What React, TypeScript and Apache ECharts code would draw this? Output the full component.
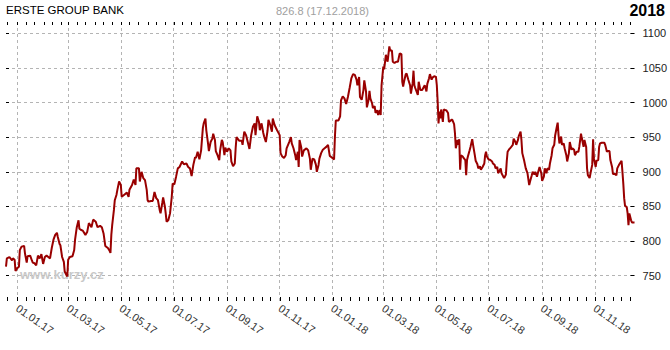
import React, { useEffect, useRef } from 'react';
import * as echarts from 'echarts';

const chartTitle = 'ERSTE GROUP BANK';
const lastInfo = '826.8 (17.12.2018)';
const yearLabel = '2018';
const watermark = 'www.kurzy.cz';

const xStart = '2016-12-19';
const xEnd = '2018-12-17';
const yMin = 713.5;
const yMax = 1116.3;
const yTicks = [750, 800, 850, 900, 950, 1000, 1050, 1100];
const majorDates = [
  '2017-01-01', '2017-03-01', '2017-05-01', '2017-07-01', '2017-09-01', '2017-11-01',
  '2018-01-01', '2018-03-01', '2018-05-01', '2018-07-01', '2018-09-01', '2018-11-01',
];

const prices2016: [string, number][] = [
  ['2016-12-19', 763], ['2016-12-20', 775], ['2016-12-23', 777], ['2016-12-26', 772],
  ['2016-12-27', 775], ['2016-12-29', 773], ['2016-12-30', 757],
];

const prices2017: [string, number][] = [
  ['2017-01-01', 761], ['2017-01-03', 763], ['2017-01-04', 787], ['2017-01-06', 792],
  ['2017-01-09', 793], ['2017-01-10', 782], ['2017-01-12', 769], ['2017-01-13', 778],
  ['2017-01-16', 779], ['2017-01-18', 772], ['2017-01-19', 769], ['2017-01-21', 768],
  ['2017-01-23', 765], ['2017-01-25', 779], ['2017-01-27', 775], ['2017-01-29', 781],
  ['2017-01-31', 767], ['2017-02-02', 777], ['2017-02-04', 779], ['2017-02-06', 777],
  ['2017-02-08', 775], ['2017-02-10', 790], ['2017-02-12', 802], ['2017-02-14', 809],
  ['2017-02-16', 812], ['2017-02-17', 806], ['2017-02-19', 796], ['2017-02-20', 794],
  ['2017-02-22', 777], ['2017-02-24', 770], ['2017-02-25', 756], ['2017-02-27', 751],
  ['2017-02-28', 749], ['2017-03-01', 773], ['2017-03-03', 777], ['2017-03-06', 778],
  ['2017-03-08', 787], ['2017-03-09', 802], ['2017-03-11', 820], ['2017-03-13', 830],
  ['2017-03-14', 818], ['2017-03-16', 816], ['2017-03-18', 815], ['2017-03-21', 809],
  ['2017-03-23', 813], ['2017-03-25', 826], ['2017-03-28', 820], ['2017-03-30', 831],
  ['2017-04-02', 828], ['2017-04-04', 820], ['2017-04-07', 822], ['2017-04-09', 820],
  ['2017-04-11', 811], ['2017-04-13', 793], ['2017-04-16', 790], ['2017-04-18', 786],
  ['2017-04-19', 783], ['2017-04-20', 809], ['2017-04-21', 823], ['2017-04-23', 845],
  ['2017-04-24', 859], ['2017-04-26', 867], ['2017-04-27', 874], ['2017-04-29', 886],
  ['2017-05-01', 881], ['2017-05-02', 864], ['2017-05-05', 867], ['2017-05-08', 870],
  ['2017-05-10', 864], ['2017-05-11', 874], ['2017-05-14', 881], ['2017-05-16', 889],
  ['2017-05-18', 881], ['2017-05-19', 905], ['2017-05-22', 905], ['2017-05-23', 886],
  ['2017-05-25', 900], ['2017-05-27', 891], ['2017-05-29', 888], ['2017-05-31', 874],
  ['2017-06-01', 859], ['2017-06-02', 857], ['2017-06-05', 858], ['2017-06-07', 858],
  ['2017-06-09', 871], ['2017-06-11', 862], ['2017-06-13', 859], ['2017-06-15', 845],
  ['2017-06-16', 840], ['2017-06-18', 855], ['2017-06-19', 863], ['2017-06-21', 850],
  ['2017-06-22', 840], ['2017-06-23', 828], ['2017-06-25', 830], ['2017-06-27', 840],
  ['2017-06-29', 864], ['2017-06-30', 883], ['2017-07-02', 882], ['2017-07-04', 893],
  ['2017-07-06', 905], ['2017-07-08', 907], ['2017-07-11', 915], ['2017-07-13', 911],
  ['2017-07-16', 912], ['2017-07-18', 907], ['2017-07-20', 905], ['2017-07-22', 894],
  ['2017-07-24', 910], ['2017-07-26', 921], ['2017-07-27', 920], ['2017-07-29', 929],
  ['2017-07-31', 918], ['2017-08-02', 931], ['2017-08-04', 963], ['2017-08-05', 970],
  ['2017-08-07', 977], ['2017-08-08', 960], ['2017-08-10', 941], ['2017-08-11', 930],
  ['2017-08-13', 943], ['2017-08-15', 948], ['2017-08-16', 955], ['2017-08-18', 946],
  ['2017-08-19', 930], ['2017-08-21', 924], ['2017-08-23', 917], ['2017-08-24', 931],
  ['2017-08-26', 946], ['2017-08-27', 943], ['2017-08-29', 924], ['2017-08-30', 935],
  ['2017-09-01', 929], ['2017-09-03', 934], ['2017-09-05', 931], ['2017-09-06', 915],
  ['2017-09-08', 908], ['2017-09-10', 912], ['2017-09-11', 934], ['2017-09-12', 950],
  ['2017-09-15', 945], ['2017-09-18', 945], ['2017-09-19', 939], ['2017-09-21', 958],
  ['2017-09-23', 953], ['2017-09-25', 943], ['2017-09-27', 933], ['2017-09-29', 953],
  ['2017-10-01', 965], ['2017-10-03', 970], ['2017-10-04', 953], ['2017-10-06', 980],
  ['2017-10-08', 972], ['2017-10-09', 960], ['2017-10-11', 970], ['2017-10-13', 956],
  ['2017-10-14', 951], ['2017-10-16', 943], ['2017-10-18', 960], ['2017-10-19', 975],
  ['2017-10-21', 968], ['2017-10-23', 958], ['2017-10-24', 977], ['2017-10-26', 968],
  ['2017-10-27', 965], ['2017-10-29', 960], ['2017-11-01', 953], ['2017-11-02', 927],
  ['2017-11-04', 922], ['2017-11-06', 920], ['2017-11-08', 924], ['2017-11-09', 934],
  ['2017-11-12', 943], ['2017-11-14', 950], ['2017-11-15', 941], ['2017-11-17', 934],
  ['2017-11-19', 924], ['2017-11-20', 917], ['2017-11-22', 929], ['2017-11-23', 907],
  ['2017-11-24', 946], ['2017-11-26', 935], ['2017-11-27', 922], ['2017-11-29', 931],
  ['2017-12-02', 934], ['2017-12-04', 931], ['2017-12-06', 919], ['2017-12-07', 903],
  ['2017-12-09', 919], ['2017-12-11', 918], ['2017-12-13', 910], ['2017-12-14', 900],
  ['2017-12-16', 910], ['2017-12-17', 919], ['2017-12-19', 927], ['2017-12-21', 932],
  ['2017-12-23', 934], ['2017-12-25', 936], ['2017-12-27', 939], ['2017-12-28', 931],
  ['2017-12-29', 923], ['2017-12-31', 921],
];

const prices2018: [string, number][] = [
  ['2018-01-03', 918], ['2018-01-04', 951], ['2018-01-05', 974], ['2018-01-08', 974],
  ['2018-01-10', 980], ['2018-01-11', 1003], ['2018-01-13', 1009], ['2018-01-15', 1006],
  ['2018-01-17', 998], ['2018-01-19', 1008], ['2018-01-21', 1021], ['2018-01-23', 1035],
  ['2018-01-25', 1041], ['2018-01-27', 1040], ['2018-01-29', 1033], ['2018-01-30', 1025],
  ['2018-02-01', 1037], ['2018-02-02', 1008], ['2018-02-04', 1004], ['2018-02-06', 1018],
  ['2018-02-07', 1032], ['2018-02-09', 1016], ['2018-02-10', 993], ['2018-02-12', 1004],
  ['2018-02-13', 1017], ['2018-02-14', 1006], ['2018-02-16', 999], ['2018-02-17', 992],
  ['2018-02-19', 995], ['2018-02-20', 985], ['2018-02-22', 989], ['2018-02-23', 982],
  ['2018-02-25', 989], ['2018-02-26', 982], ['2018-02-27', 1025], ['2018-03-01', 1052],
  ['2018-03-02', 1048], ['2018-03-04', 1069], ['2018-03-06', 1059], ['2018-03-08', 1081],
  ['2018-03-09', 1075], ['2018-03-11', 1075], ['2018-03-12', 1059], ['2018-03-14', 1057],
  ['2018-03-16', 1059], ['2018-03-18', 1059], ['2018-03-20', 1071], ['2018-03-22', 1070],
  ['2018-03-23', 1030], ['2018-03-24', 1023], ['2018-03-25', 1030], ['2018-03-27', 1041],
  ['2018-03-28', 1042], ['2018-03-30', 1033], ['2018-04-01', 1025], ['2018-04-02', 1013],
  ['2018-04-04', 1028], ['2018-04-05', 1046], ['2018-04-06', 1025], ['2018-04-07', 1021],
  ['2018-04-10', 1011], ['2018-04-11', 1030], ['2018-04-13', 1018], ['2018-04-15', 1018],
  ['2018-04-18', 1025], ['2018-04-20', 1016], ['2018-04-21', 1027], ['2018-04-23', 1035],
  ['2018-04-24', 1041], ['2018-04-26', 1033], ['2018-04-27', 1036], ['2018-04-29', 1038],
  ['2018-05-01', 1037], ['2018-05-02', 1025], ['2018-05-03', 1001], ['2018-05-04', 970],
  ['2018-05-05', 987], ['2018-05-06', 977], ['2018-05-07', 990], ['2018-05-09', 972],
  ['2018-05-10', 990], ['2018-05-12', 989], ['2018-05-13', 989], ['2018-05-15', 985],
  ['2018-05-16', 972], ['2018-05-19', 975], ['2018-05-20', 975], ['2018-05-22', 969],
  ['2018-05-23', 956], ['2018-05-24', 934], ['2018-05-26', 946], ['2018-05-27', 939],
  ['2018-05-28', 947], ['2018-05-29', 903], ['2018-05-30', 924], ['2018-06-01', 922],
  ['2018-06-02', 920], ['2018-06-04', 917], ['2018-06-05', 895], ['2018-06-06', 917],
  ['2018-06-07', 922], ['2018-06-09', 931], ['2018-06-10', 936], ['2018-06-12', 947],
  ['2018-06-13', 939], ['2018-06-15', 924], ['2018-06-16', 916], ['2018-06-18', 911],
  ['2018-06-19', 905], ['2018-06-21', 908], ['2018-06-22', 903], ['2018-06-24', 907],
  ['2018-06-26', 912], ['2018-06-27', 924], ['2018-06-28', 929], ['2018-06-29', 922],
  ['2018-07-01', 918], ['2018-07-03', 917], ['2018-07-05', 915], ['2018-07-06', 912],
  ['2018-07-08', 910], ['2018-07-09', 905], ['2018-07-11', 907], ['2018-07-12', 898],
  ['2018-07-13', 900], ['2018-07-15', 905], ['2018-07-16', 898], ['2018-07-18', 893],
  ['2018-07-19', 891], ['2018-07-21', 896], ['2018-07-22', 915], ['2018-07-23', 929],
  ['2018-07-25', 933], ['2018-07-26', 934], ['2018-07-29', 939], ['2018-07-30', 948],
  ['2018-08-01', 943], ['2018-08-02', 939], ['2018-08-04', 946], ['2018-08-05', 952],
  ['2018-08-07', 958], ['2018-08-08', 946], ['2018-08-09', 927], ['2018-08-11', 917],
  ['2018-08-13', 905], ['2018-08-15', 898], ['2018-08-17', 881], ['2018-08-18', 886],
  ['2018-08-20', 895], ['2018-08-21', 900], ['2018-08-23', 896], ['2018-08-24', 900],
  ['2018-08-26', 893], ['2018-08-27', 898], ['2018-08-29', 907], ['2018-08-31', 898],
  ['2018-09-01', 887], ['2018-09-03', 893], ['2018-09-04', 905], ['2018-09-06', 898],
  ['2018-09-07', 905], ['2018-09-09', 903], ['2018-09-10', 912], ['2018-09-12', 924],
  ['2018-09-13', 934], ['2018-09-15', 939], ['2018-09-16', 952], ['2018-09-18', 965],
  ['2018-09-19', 971], ['2018-09-20', 953], ['2018-09-21', 941], ['2018-09-23', 951],
  ['2018-09-24', 939], ['2018-09-26', 941], ['2018-09-27', 934], ['2018-09-29', 924],
  ['2018-09-30', 915], ['2018-10-02', 927], ['2018-10-03', 943], ['2018-10-05', 932],
  ['2018-10-06', 934], ['2018-10-08', 932], ['2018-10-09', 924], ['2018-10-11', 929],
  ['2018-10-13', 929], ['2018-10-14', 936], ['2018-10-16', 955], ['2018-10-17', 948],
  ['2018-10-19', 936], ['2018-10-20', 946], ['2018-10-22', 936], ['2018-10-23', 905],
  ['2018-10-24', 895], ['2018-10-26', 891], ['2018-10-27', 898], ['2018-10-29', 910],
  ['2018-10-30', 947], ['2018-10-31', 919], ['2018-11-02', 907], ['2018-11-03', 916],
  ['2018-11-05', 917], ['2018-11-06', 936], ['2018-11-07', 941], ['2018-11-09', 942],
  ['2018-11-12', 942], ['2018-11-13', 939], ['2018-11-15', 929], ['2018-11-16', 930],
  ['2018-11-18', 930], ['2018-11-19', 917], ['2018-11-21', 907], ['2018-11-22', 897],
  ['2018-11-24', 897], ['2018-11-26', 895], ['2018-11-27', 905], ['2018-11-29', 910],
  ['2018-11-30', 912], ['2018-12-02', 916], ['2018-12-03', 900], ['2018-12-04', 883],
  ['2018-12-05', 862], ['2018-12-06', 851], ['2018-12-08', 849], ['2018-12-09', 840],
  ['2018-12-10', 823], ['2018-12-11', 840], ['2018-12-13', 830], ['2018-12-14', 827],
  ['2018-12-17', 826.8],
];

const pad = (n: number) => (n < 10 ? '0' + n : '' + n);

// 'YYYY-MM-DD' -> epoch ms (local midnight)
const ts = (s: string) => {
  const [y, m, d] = s.split('-').map(Number);
  return new Date(y, m - 1, d).getTime();
};

function buildMinorTicks(): string[] {
  const out: string[] = [];
  for (let y = 2016; y <= 2018; y++) {
    for (let m = 1; m <= 12; m++) {
      for (const d of [1, 11, 21]) {
        const s = `${y}-${pad(m)}-${pad(d)}`;
        if (s >= xStart && s <= xEnd) out.push(s);
      }
    }
  }
  return out;
}

const FONT = '"Liberation Sans", Arial, sans-serif';

export default function App() {
  const ref = useRef<HTMLDivElement>(null);

  useEffect(() => {
    if (!ref.current) return;
    const chart = echarts.init(ref.current, null, { renderer: 'svg' });
    const minorTicks = buildMinorTicks().map(ts);
    const majorTicks = majorDates.map(ts);
    const data = [...prices2016, ...prices2017, ...prices2018].map(([d, v]) => [ts(d), v]);
    const gridRect = { left: 6, right: 34.5, top: 22, bottom: 49 };
    const xMin = ts(xStart);
    const xMax = ts(xEnd);

    const fmtDate = (v: number) => {
      const d = new Date(v);
      return `${pad(d.getDate())}.${pad(d.getMonth() + 1)}.${pad(d.getFullYear() % 100)}`;
    };

    chart.setOption({
      animation: false,
      backgroundColor: '#ffffff',
      textStyle: { fontFamily: FONT },
      title: [
        { text: chartTitle, left: 6, top: 4, padding: 0, textStyle: { fontSize: 11.5, fontWeight: 'normal', color: '#000', fontFamily: FONT } },
        { text: lastInfo, left: 276, top: 5, padding: 0, textStyle: { fontSize: 11, fontWeight: 'normal', color: '#a0a0a0', fontFamily: FONT } },
        { text: yearLabel, right: 5, top: 2, padding: 0, textStyle: { fontSize: 16, fontWeight: 'bold', color: '#000', fontFamily: FONT } },
      ],
      graphic: [
        {
          type: 'text', left: 20, top: 268, z: 1, silent: true,
          style: { text: watermark, fill: '#c8c8c8', font: `bold 13px ${FONT}` },
        },
      ],
      grid: [
        { ...gridRect, containLabel: false },
        { ...gridRect, containLabel: false },
      ],
      xAxis: [
        {
          type: 'value', gridIndex: 0, position: 'bottom', min: xMin, max: xMax,
          axisLine: { show: false },
          axisTick: { show: false, customValues: majorTicks },
          axisLabel: {
            customValues: majorTicks, rotate: -35, margin: 6, fontSize: 11,
            color: '#333', fontFamily: FONT, formatter: (v: number) => fmtDate(v),
            hideOverlap: false,
          },
          splitLine: { show: true, lineStyle: { color: '#b4b4b4', width: 1, type: [3, 3] } },
        },
        {
          type: 'value', gridIndex: 1, position: 'bottom', min: xMin, max: xMax,
          axisLine: { show: false },
          axisTick: { show: true, inside: true, length: 4, customValues: minorTicks, lineStyle: { color: '#000', width: 1 } },
          axisLabel: { show: false },
          splitLine: { show: false },
        },
        {
          type: 'value', gridIndex: 1, position: 'top', min: xMin, max: xMax,
          axisLine: { show: false },
          axisTick: { show: true, inside: true, length: 3, customValues: minorTicks, lineStyle: { color: '#000', width: 1 } },
          axisLabel: { show: false },
          splitLine: { show: false },
        },
      ],
      yAxis: [
        {
          type: 'value', gridIndex: 0, position: 'right', min: yMin, max: yMax,
          axisLine: { show: false },
          axisTick: { show: true, inside: true, length: 4, customValues: yTicks, lineStyle: { color: '#000', width: 1 } },
          axisLabel: {
            customValues: yTicks, margin: 8, fontSize: 11, color: '#222', fontFamily: FONT, align: 'left',
            formatter: (v: number) => String(v),
          },
          splitLine: { show: true, lineStyle: { color: '#b4b4b4', width: 1, type: [3, 3] } },
        },
        {
          type: 'value', gridIndex: 1, position: 'left', min: yMin, max: yMax,
          axisLine: { show: false },
          axisTick: { show: true, inside: true, length: 3, customValues: yTicks, lineStyle: { color: '#000', width: 1 } },
          axisLabel: { show: false },
          splitLine: { show: false },
        },
      ],
      series: [
        {
          type: 'line', xAxisIndex: 0, yAxisIndex: 0, data, showSymbol: false, symbol: 'none',
          z: 5, lineStyle: { color: '#990000', width: 2 }, itemStyle: { color: '#990000' },
        },
      ],
    });

    return () => chart.dispose();
  }, []);

  return <div ref={ref} style={{ position: 'fixed', left: 0, top: 0, width: 670, height: 350 }} />;
}
